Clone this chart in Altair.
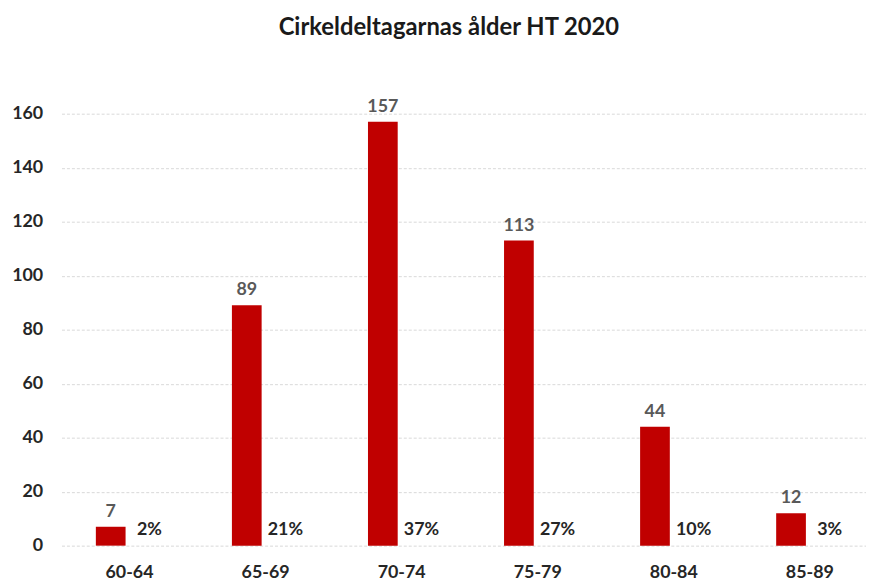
import altair as alt
import pandas as pd

categories = ["60-64", "65-69", "70-74", "75-79", "80-84", "85-89"]
counts = [7, 89, 157, 113, 44, 12]
percents = ["2%", "21%", "37%", "27%", "10%", "3%"]
y_ticks = [0, 20, 40, 60, 80, 100, 120, 140, 160]
title_text = "Cirkeldeltagarnas ålder HT 2020"

df = pd.DataFrame({"cat": categories, "n": counts, "pct": percents})

FONT = "Lato"

x = alt.X(
    "cat:N", sort=categories, title=None,
    scale=alt.Scale(range=[0, 824], paddingInner=0, paddingOuter=0),
    axis=alt.Axis(labelAngle=0, labelFont=FONT, labelFontSize=18, labelFontWeight="bold",
                  labelColor="#262626", labelPadding=18, ticks=False, domain=False, grid=False),
)
y = alt.Y(
    "n:Q", title=None,
    scale=alt.Scale(domain=[0, 160], nice=False),
    axis=alt.Axis(values=y_ticks, labelFont=FONT, labelFontSize=18, labelFontWeight="bold",
                  labelColor="#262626", labelPadding=19, ticks=False, domain=False,
                  grid=True, gridColor="#d9d9d9", gridDash=[3, 2], gridWidth=1),
)

base = alt.Chart(df)

bars = base.mark_bar(color="#C00000", width=30, xOffset=-19).encode(x=x, y=y)

vals = base.mark_text(font=FONT, fontSize=18, fontWeight="bold", color="#595959",
                      xOffset=-19, baseline="bottom", dy=-6).encode(x=x, y=y, text="n:Q")

pcts = base.mark_text(font=FONT, fontSize=18, fontWeight="bold", color="#262626",
                      xOffset=20, baseline="bottom", dy=-7).encode(
    x=x, y=alt.datum(0), text="pct:N")

chart = alt.layer(bars, vals, pcts).properties(
    width=804, height=436,
    title=alt.TitleParams(title_text, font=FONT, fontSize=24, fontWeight="bold",
                          color="#1a1a1a", anchor="middle", dx=-11, dy=-55),
    autosize=alt.AutoSizeParams(type="none"),
    padding={"left": 54, "top": 104, "right": 8, "bottom": 33},
).configure(background="white").configure_view(strokeWidth=0, strokeOpacity=0)

chart.save("out.html", embed_options={"renderer": "svg", "actions": False})
